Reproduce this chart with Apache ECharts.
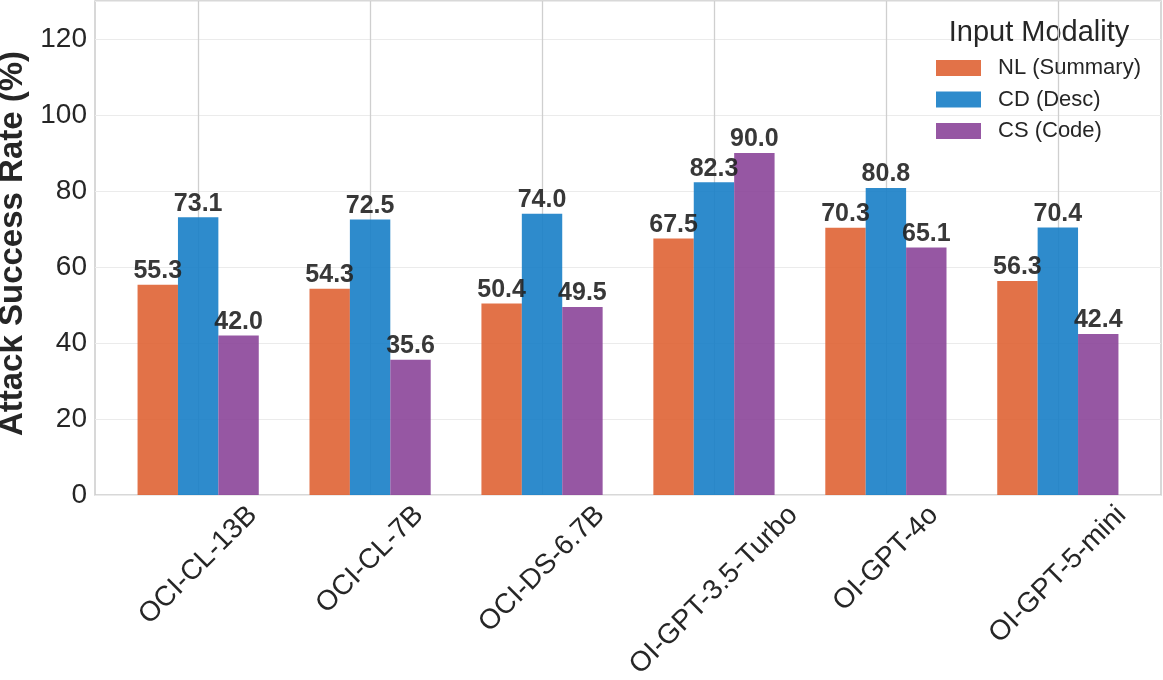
<!DOCTYPE html>
<html>
<head>
<meta charset="utf-8">
<script src="https://cdn.jsdelivr.net/npm/echarts@6/dist/echarts.min.js"></script>
<style>
html,body{margin:0;padding:0;background:#fff;}
#chart{width:1163px;height:680px;}
</style>
</head>
<body>
<div id="chart"></div>
<script>
const categories = ['OCI-CL-13B', 'OCI-CL-7B', 'OCI-DS-6.7B', 'OI-GPT-3.5-Turbo', 'OI-GPT-4o', 'OI-GPT-5-mini'];
const seriesNames = ['NL (Summary)', 'CD (Desc)', 'CS (Code)'];
const nlValues = [55.3, 54.3, 50.4, 67.5, 70.3, 56.3];
const cdValues = [73.1, 72.5, 74.0, 82.3, 80.8, 70.4];
const csValues = [42.0, 35.6, 49.5, 90.0, 65.1, 42.4];
const yTicks = [0, 20, 40, 60, 80, 100, 120];
const yMax = 130;
const legendTitle = 'Input Modality';
const yTitle = 'Attack Success Rate (%)';

const FONT = '"Liberation Sans", Arial, sans-serif';
const colors = ['#DF6334', '#177EC6', '#8B4599'];
const TEXT = '#262626';

const chart = echarts.init(document.getElementById('chart'), null, {renderer: 'canvas'});

const plotLeft = 95, plotRight = 1161, plotTop = 1, plotBottom = 495;
const plotW = plotRight - plotLeft;
const band = plotW / (categories.length + 0.2);
const barGridLeft = plotLeft + 0.1 * band;
const barGridW = categories.length * band;

function makeSeries(name, values, idx) {
  const s = {
    name: name,
    type: 'bar',
    xAxisIndex: 1,
    yAxisIndex: 1,
    data: values,
    barWidth: '23.5%',
    barGap: '0%',
    z: 3,
    itemStyle: {color: colors[idx], opacity: 0.9},
    label: {
      show: true,
      position: 'top',
      distance: 1,
      formatter: p => Number(p.value).toFixed(1),
      fontSize: 25,
      fontWeight: 'bold',
      fontFamily: FONT,
      color: '#222222'
    }
  };
  if (idx === 1) {
    s.markLine = {
      silent: true,
      symbol: 'none',
      z: 1,
      label: {show: false},
      lineStyle: {color: '#cfcfcf', width: 1.3, type: 'solid'},
      emphasis: {disabled: true},
      data: categories.map(c => ({xAxis: c}))
    };
  }
  return s;
}

const option = {
  backgroundColor: '#fff',
  animation: false,
  grid: [
    {left: plotLeft, top: plotTop, width: plotW, height: plotBottom - plotTop,
     outerBoundsMode: 'none', containLabel: false,
     show: true, borderColor: '#cccccc', borderWidth: 1.5, backgroundColor: 'transparent', z: 0},
    {left: barGridLeft, top: plotTop, width: barGridW, height: plotBottom - plotTop,
     outerBoundsMode: 'none', containLabel: false}
  ],
  xAxis: [
    {type: 'value', gridIndex: 0, min: 0, max: 1, show: false, splitLine: {show: false}},
    {type: 'category', gridIndex: 1, data: categories,
     axisLine: {show: false}, axisTick: {show: false}, axisLabel: {show: false}, splitLine: {show: false}}
  ],
  yAxis: [
    {type: 'value', gridIndex: 0, min: 0, max: yMax, interval: yTicks[1] - yTicks[0],
     axisLine: {show: false}, axisTick: {show: false},
     splitLine: {show: true, lineStyle: {color: '#ebebeb', width: 1.2}},
     axisLabel: {fontSize: 28, fontFamily: FONT, color: TEXT, margin: 8, showMaxLabel: false},
     name: yTitle, nameLocation: 'middle', nameGap: 64,
     nameTextStyle: {fontSize: 33, fontWeight: 'bold', fontFamily: FONT, color: TEXT, padding: [0, 0, 0, 9]}},
    {type: 'value', gridIndex: 1, min: 0, max: yMax, show: false, splitLine: {show: false}}
  ],
  legend: {
    orient: 'vertical',
    left: 936,
    top: 57,
    padding: 0,
    itemWidth: 45,
    itemHeight: 16,
    itemGap: 9.5,
    icon: 'rect',
    data: seriesNames,
    textStyle: {fontSize: 22, fontFamily: FONT, color: TEXT, padding: [0, 0, 0, 12]}
  },
  series: [
    makeSeries(seriesNames[0], nlValues, 0),
    makeSeries(seriesNames[1], cdValues, 1),
    makeSeries(seriesNames[2], csValues, 2)
  ]
};

chart.setOption(option);

// x tick labels rotated 45°, bbox centred on tick (matplotlib style)
const ctx = document.createElement('canvas').getContext('2d');
const labelFont = '28px ' + FONT;
ctx.font = labelFont;
const labelTop = 501;
const h = 28;
const graphics = categories.map(c => {
  const x = chart.convertToPixel({xAxisIndex: 1}, c);
  const w = ctx.measureText(c).width;
  const k = Math.SQRT1_2 / 2;
  return {
    type: 'text',
    x: x + k * w,
    y: labelTop + k * h,
    rotation: Math.PI / 4,
    silent: true,
    style: {text: c, font: labelFont, fill: TEXT, align: 'right', verticalAlign: 'middle'}
  };
});
graphics.push({
  type: 'text',
  x: 1039,
  y: 33,
  silent: true,
  style: {text: legendTitle, font: '29px ' + FONT, fill: TEXT, align: 'center', verticalAlign: 'middle'}
});
chart.setOption({graphic: graphics});
</script>
</body>
</html>
